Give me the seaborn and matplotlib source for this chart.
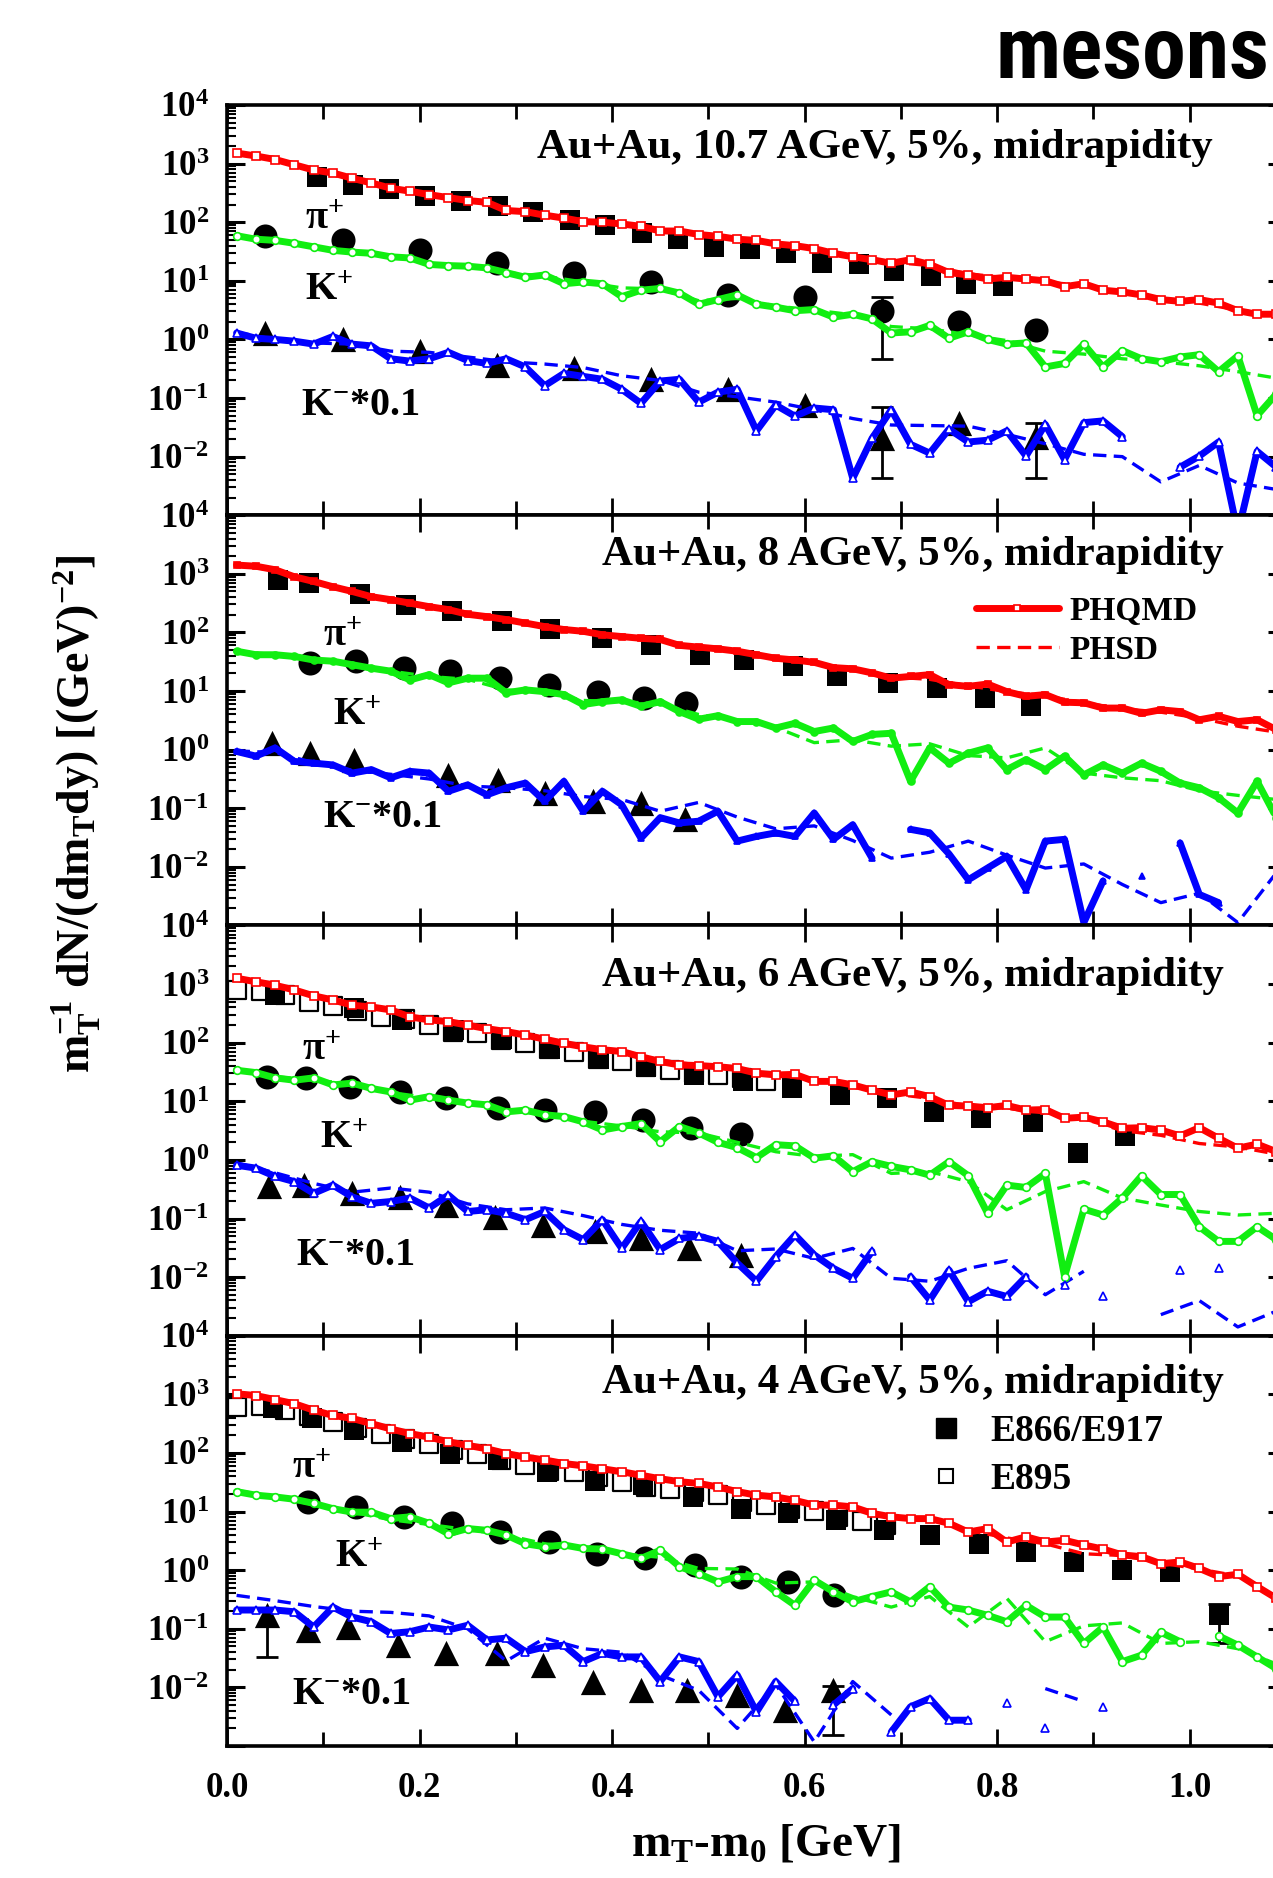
import numpy as np
import pandas as pd
import matplotlib
matplotlib.use("Agg")
import matplotlib.pyplot as plt
from matplotlib.lines import Line2D
from matplotlib.ticker import MultipleLocator, LogLocator, NullFormatter, FuncFormatter, FormatStrFormatter
import seaborn as sns

nan = np.nan

# ---------------- model grids (GeV) ----------------
mt_phqmd = [0.01, 0.03, 0.05, 0.07, 0.09, 0.11, 0.13, 0.15, 0.17, 0.19, 0.21, 0.23, 0.25, 0.27,
            0.29, 0.31, 0.33, 0.35, 0.37, 0.39, 0.41, 0.43, 0.45, 0.47, 0.49, 0.51, 0.53, 0.55,
            0.57, 0.59, 0.61, 0.63, 0.65, 0.67, 0.69, 0.71, 0.73, 0.75, 0.77, 0.79, 0.81, 0.83,
            0.85, 0.87, 0.89, 0.91, 0.93, 0.95, 0.97, 0.99, 1.01, 1.03, 1.05, 1.07, 1.09]
mt_phsd = [0.01, 0.05, 0.09, 0.13, 0.17, 0.21, 0.25, 0.29, 0.33, 0.37, 0.41, 0.45, 0.49, 0.53,
           0.57, 0.61, 0.65, 0.69, 0.73, 0.77, 0.81, 0.85, 0.89, 0.93, 0.97, 1.01, 1.05, 1.09]

# All spectra values below are log10 of m_T^-1 dN/(dm_T dy)

# ---------------- 10.7 AGeV ----------------
pi_phqmd_107 = [3.18, 3.13, 3.07, 2.98, 2.89, 2.84, 2.75, 2.67, 2.58, 2.53, 2.47, 2.42, 2.37, 2.34, 2.20,
                2.18, 2.12, 2.07, 2.01, 2.00, 1.97, 1.93, 1.85, 1.85, 1.79, 1.76, 1.71, 1.69, 1.63, 1.60,
                1.55, 1.47, 1.41, 1.36, 1.30, 1.36, 1.28, 1.14, 1.10, 1.03, 1.06, 1.03, 1.00, 0.90, 0.95,
                0.84, 0.81, 0.76, 0.68, 0.65, 0.68, 0.62, 0.49, 0.43, 0.43]
k_phqmd_107 = [1.77, 1.71, 1.69, 1.64, 1.58, 1.52, 1.49, 1.47, 1.41, 1.39, 1.28, 1.26, 1.25, 1.22, 1.14,
               1.06, 1.10, 0.95, 0.98, 0.95, 0.73, 0.84, 0.87, 0.79, 0.60, 0.68, 0.76, 0.60, 0.55, 0.49,
               0.51, 0.38, 0.43, 0.35, 0.11, 0.13, 0.24, 0.02, 0.13, 0.00, -0.08, -0.06, -0.47, -0.41, -0.08,
               -0.47, -0.19, -0.33, -0.38, -0.30, -0.26, -0.55, -0.28, -1.30, -0.93]
km_phqmd_107 = [0.11, 0.02, 0.00, -0.03, -0.08, 0.05, -0.08, -0.11, -0.33, -0.37, -0.33, -0.22, -0.36, -0.41, -0.33,
                -0.47, -0.79, -0.58, -0.63, -0.68, -0.85, -1.09, -0.71, -0.68, -1.07, -0.90, -0.85, -1.56, -1.12, -1.31,
                -1.17, -1.20, -2.37, -1.69, -1.20, -1.79, -1.94, -1.53, -1.75, -1.72, -1.56, -1.99, -1.45, -2.05, -1.42,
                -1.39, -1.66, nan, nan, -2.18, -1.99, -1.75, -3.30, -1.91, -2.18]
pi_phsd_107 = [3.18, 3.06, 2.90, 2.75, 2.60, 2.47, 2.37, 2.23, 2.12, 2.02, 1.96, 1.86, 1.79, 1.71,
               1.63, 1.54, 1.42, 1.32, 1.26, 1.12, 1.05, 0.98, 0.92, 0.80, 0.70, 0.62, 0.50, 0.42]
k_phsd_107 = [1.76, 1.69, 1.58, 1.50, 1.42, 1.30, 1.24, 1.14, 1.08, 0.98, 0.88, 0.86, 0.66, 0.70,
              0.57, 0.50, 0.42, 0.22, 0.18, 0.08, -0.02, -0.20, -0.25, -0.33, -0.38, -0.45, -0.55, -0.66]
km_phsd_107 = [0.12, 0.00, -0.06, -0.08, -0.20, -0.22, -0.30, -0.38, -0.42, -0.48, -0.62, -0.70, -0.90, -0.98,
               -1.07, -1.20, -1.35, -1.46, -1.47, -1.48, -1.62, -1.78, -1.96, -2.00, -2.43, -2.15, -2.45, -2.56]
sq_x_107 = [0.093, 0.131, 0.168, 0.206, 0.243, 0.281, 0.318, 0.356, 0.393, 0.431, 0.468, 0.506, 0.543, 0.581,
            0.618, 0.656, 0.693, 0.731, 0.768, 0.806]
sq_y_107 = [2.77, 2.64, 2.56, 2.45, 2.37, 2.28, 2.18, 2.04, 1.96, 1.82, 1.71, 1.58, 1.54, 1.47, 1.30, 1.28,
            1.17, 1.09, 0.95, 0.91]
osq_x_107 = []
osq_y_107 = []
circ_x_107 = [0.04, 0.12, 0.20, 0.28, 0.36, 0.44, 0.52, 0.60, 0.68, 0.76, 0.84]
circ_y_107 = [1.77, 1.69, 1.52, 1.30, 1.14, 0.98, 0.76, 0.73, 0.49, 0.30, 0.16]
tri_x_107 = [0.04, 0.12, 0.20, 0.28, 0.36, 0.44, 0.52, 0.60, 0.68, 0.76, 0.84]
tri_y_107 = [0.11, 0.00, -0.19, -0.44, -0.49, -0.68, -0.85, -1.12, -1.69, -1.42, -1.66]
err_x_107 = [0.68, 0.68, 0.84]
err_c_107 = [0.49, -1.69, -1.66]
err_lo_107 = [-0.33, -2.37, -2.37]
err_hi_107 = [0.73, -1.15, -1.42]

# ---------------- 8 AGeV ----------------
pi_phqmd_8 = [3.15, 3.13, 3.07, 2.95, 2.87, 2.78, 2.70, 2.61, 2.56, 2.50, 2.44, 2.39, 2.31, 2.27, 2.22,
              2.16, 2.10, 2.05, 2.02, 1.96, 1.93, 1.90, 1.88, 1.78, 1.75, 1.72, 1.68, 1.62, 1.56, 1.53,
              1.49, 1.40, 1.38, 1.31, 1.22, 1.25, 1.28, 1.11, 1.08, 1.12, 0.99, 0.91, 0.94, 0.81, 0.80,
              0.71, 0.71, 0.62, 0.68, 0.65, 0.51, 0.57, 0.48, 0.51, 0.34]
k_phqmd_8 = [1.68, 1.62, 1.62, 1.59, 1.53, 1.51, 1.45, 1.39, 1.34, 1.19, 1.28, 1.14, 1.22, 1.22, 0.97,
             1.02, 0.99, 0.94, 0.77, 0.82, 0.85, 0.74, 0.82, 0.65, 0.52, 0.58, 0.48, 0.48, 0.37, 0.45,
             0.31, 0.37, 0.14, 0.26, 0.28, -0.54, 0.03, -0.23, -0.06, 0.03, -0.34, -0.17, -0.34, -0.11, -0.43,
             -0.26, -0.40, -0.23, -0.37, -0.57, -0.65, -0.82, -1.08, -0.54, -1.16]
km_phqmd_8 = [-0.03, -0.11, 0.03, -0.20, -0.23, -0.26, -0.40, -0.34, -0.48, -0.37, -0.40, -0.71, -0.60, -0.77, -0.65,
              -0.57, -0.88, -0.54, -1.05, -0.71, -0.94, -1.51, -1.16, -1.25, -1.22, -1.05, -1.56, -1.48, -1.42, -1.48,
              -1.08, -1.53, -1.28, -1.85, nan, -1.36, -1.42, -1.78, -2.22, -2.02, -1.82, -2.39, -1.56, -1.53, -2.95,
              -2.24, nan, -2.16, nan, -1.59, -2.47, -2.61, nan, nan, nan]
pi_phsd_8 = [3.15, 3.06, 2.87, 2.70, 2.56, 2.44, 2.32, 2.22, 2.10, 2.01, 1.93, 1.86, 1.75, 1.67,
             1.56, 1.48, 1.37, 1.24, 1.20, 1.09, 0.99, 0.92, 0.80, 0.70, 0.64, 0.54, 0.40, 0.30]
k_phsd_8 = [1.68, 1.62, 1.54, 1.45, 1.34, 1.25, 1.20, 1.02, 0.98, 0.84, 0.82, 0.78, 0.60, 0.50,
            0.38, 0.12, 0.17, 0.06, 0.10, -0.10, -0.14, 0.03, -0.40, -0.48, -0.53, -0.70, -0.78, -0.85]
km_phsd_8 = [-0.02, -0.05, -0.22, -0.35, -0.42, -0.50, -0.62, -0.65, -0.70, -0.80, -0.85, -1.05, -0.90, -1.15,
             -1.35, -1.30, -1.55, -1.85, -1.75, -1.56, -1.80, -2.02, -1.95, -2.30, -2.61, -2.45, -2.95, -2.10]
sq_x_8 = [0.053, 0.085, 0.138, 0.186, 0.234, 0.286, 0.336, 0.390, 0.440, 0.491, 0.537, 0.588, 0.634, 0.687,
          0.738, 0.787, 0.835]
sq_y_8 = [2.90, 2.84, 2.65, 2.47, 2.36, 2.19, 2.06, 1.90, 1.79, 1.62, 1.53, 1.42, 1.25, 1.14, 1.05, 0.88, 0.74]
osq_x_8 = []
osq_y_8 = []
circ_x_8 = [0.086, 0.134, 0.184, 0.232, 0.284, 0.334, 0.385, 0.433, 0.477]
circ_y_8 = [1.48, 1.51, 1.40, 1.34, 1.22, 1.11, 0.99, 0.88, 0.80]
tri_x_8 = [0.047, 0.086, 0.132, 0.230, 0.282, 0.330, 0.380, 0.430, 0.476]
tri_y_8 = [0.11, -0.06, -0.17, -0.43, -0.51, -0.74, -0.88, -0.91, -1.19]
err_x_8 = []
err_c_8 = []
err_lo_8 = []
err_hi_8 = []

# ---------------- 6 AGeV ----------------
pi_phqmd_6 = [3.10, 3.04, 2.98, 2.90, 2.80, 2.73, 2.64, 2.61, 2.56, 2.44, 2.39, 2.36, 2.30, 2.24, 2.19,
              2.13, 2.06, 1.99, 1.93, 1.88, 1.85, 1.76, 1.68, 1.62, 1.61, 1.59, 1.56, 1.48, 1.45, 1.46,
              1.34, 1.34, 1.28, 1.19, 1.11, 1.16, 1.08, 0.93, 0.92, 0.89, 0.93, 0.85, 0.86, 0.71, 0.73,
              0.65, 0.54, 0.55, 0.51, 0.41, 0.55, 0.37, 0.20, 0.27, 0.14]
k_phqmd_6 = [1.53, 1.49, 1.40, 1.36, 1.40, 1.28, 1.31, 1.22, 1.16, 1.02, 1.08, 1.02, 0.97, 0.94, 0.82,
             0.85, 0.77, 0.74, 0.65, 0.51, 0.57, 0.62, 0.31, 0.57, 0.46, 0.30, 0.21, 0.04, 0.26, 0.24,
             0.03, 0.07, -0.20, -0.03, -0.11, -0.17, -0.26, -0.03, -0.27, -0.91, -0.43, -0.47, -0.23, -1.99, -0.84,
             -0.94, -0.65, -0.27, -0.59, -0.59, -1.14, -1.39, -1.39, -1.14, -1.36]
km_phqmd_6 = [-0.09, -0.14, -0.28, -0.37, -0.57, -0.43, -0.63, -0.74, -0.71, -0.65, -0.82, -0.60, -0.88, -0.85, -0.91,
              -1.02, -0.88, -1.19, -1.36, -1.02, -1.51, -1.05, -1.53, -1.34, -1.30, -1.39, -1.76, -2.07, -1.65, -1.28,
              -1.62, -1.85, -2.02, -1.56, nan, -1.99, -2.39, -1.88, -2.42, -2.24, -2.33, -1.99, nan, -2.13, nan,
              -2.33, nan, nan, nan, -1.88, nan, -1.84, nan, nan, nan]
pi_phsd_6 = [3.08, 2.97, 2.80, 2.65, 2.55, 2.40, 2.30, 2.18, 2.06, 1.94, 1.84, 1.70, 1.62, 1.55,
             1.45, 1.36, 1.26, 1.13, 1.05, 0.92, 0.88, 0.80, 0.70, 0.50, 0.42, 0.28, 0.22, 0.10]
k_phsd_6 = [1.52, 1.42, 1.36, 1.30, 1.15, 1.06, 0.97, 0.84, 0.78, 0.66, 0.58, 0.48, 0.46, 0.30,
            0.14, 0.06, 0.09, -0.23, -0.20, -0.37, -0.85, -0.54, -0.37, -0.65, -0.77, -0.88, -0.94, -0.91]
km_phsd_6 = [-0.05, -0.22, -0.40, -0.55, -0.48, -0.55, -0.75, -0.85, -0.82, -0.95, -1.10, -1.20, -1.25, -1.55,
             -1.52, -1.68, -1.51, -2.02, -2.07, -1.85, -1.72, -2.30, -1.90, nan, -2.64, -2.40, -2.85, -2.58]
sq_x_6 = [0.050, 0.132, 0.182, 0.236, 0.286, 0.336, 0.386, 0.435, 0.485, 0.536, 0.587, 0.637, 0.686, 0.734,
          0.783, 0.837, 0.884, 0.933]
sq_y_6 = [2.81, 2.60, 2.39, 2.22, 2.07, 1.90, 1.73, 1.59, 1.45, 1.34, 1.22, 1.11, 1.05, 0.82, 0.71, 0.65,
          0.11, 0.40]
osq_x_6 = [0.010, 0.035, 0.060, 0.085, 0.110, 0.135, 0.160, 0.185, 0.210, 0.235, 0.260, 0.285, 0.310, 0.335,
           0.360, 0.385, 0.410, 0.435, 0.460, 0.485, 0.510, 0.535, 0.560]
osq_y_6 = [2.90, 2.88, 2.81, 2.70, 2.63, 2.54, 2.44, 2.41, 2.31, 2.19, 2.16, 2.05, 1.99, 1.90, 1.85, 1.73,
           1.68, 1.59, 1.53, 1.48, 1.45, 1.40, 1.34]
circ_x_6 = [0.042, 0.082, 0.128, 0.180, 0.228, 0.282, 0.330, 0.382, 0.432, 0.482, 0.534]
circ_y_6 = [1.42, 1.40, 1.25, 1.16, 1.05, 0.88, 0.85, 0.82, 0.68, 0.54, 0.44]
tri_x_6 = [0.044, 0.080, 0.130, 0.180, 0.228, 0.278, 0.328, 0.382, 0.430, 0.480, 0.534]
tri_y_6 = [-0.45, -0.43, -0.57, -0.63, -0.77, -0.97, -1.11, -1.22, -1.34, -1.51, -1.62]
err_x_6 = []
err_c_6 = []
err_lo_6 = []
err_hi_6 = []

# ---------------- 4 AGeV ----------------
pi_phqmd_4 = [3.01, 2.98, 2.91, 2.84, 2.73, 2.64, 2.59, 2.50, 2.41, 2.33, 2.27, 2.19, 2.13, 2.07, 1.99,
              1.93, 1.88, 1.82, 1.78, 1.73, 1.68, 1.62, 1.56, 1.51, 1.48, 1.42, 1.34, 1.28, 1.25, 1.19,
              1.11, 1.11, 1.08, 0.97, 0.91, 0.88, 0.88, 0.80, 0.65, 0.71, 0.48, 0.57, 0.48, 0.51, 0.43,
              0.36, 0.26, 0.23, 0.11, 0.14, 0.03, -0.11, -0.07, -0.28, -0.48]
k_phqmd_4 = [1.34, 1.28, 1.25, 1.21, 1.14, 1.05, 0.99, 0.99, 0.88, 0.91, 0.80, 0.62, 0.71, 0.68, 0.60,
             0.45, 0.40, 0.43, 0.37, 0.36, 0.28, 0.20, 0.34, 0.06, -0.06, -0.20, -0.11, -0.11, -0.37, -0.60,
             -0.17, -0.37, -0.54, -0.45, -0.37, -0.54, -0.28, -0.63, -0.68, -0.77, -0.88, -0.60, -0.80, -0.80, -1.25,
             -0.97, -1.56, -1.45, -1.06, -1.22, nan, -1.12, -1.28, -1.48, -1.68]
km_phqmd_4 = [-0.68, -0.68, -0.68, -0.71, -0.97, -0.63, -0.80, -0.88, -1.08, -1.05, -0.97, -1.02, -0.94, -1.19, -1.16,
              -1.39, -1.31, -1.28, -1.56, -1.42, -1.48, -1.48, -1.90, -1.48, -1.56, -2.16, -1.79, -2.42, -1.90, -2.24,
              nan, -2.30, -2.02, nan, -2.76, -2.33, -2.19, -2.56, -2.56, nan, -2.27, nan, -2.70, nan, nan,
              -2.33, nan, nan, nan, nan, nan, nan, nan, nan, nan]
pi_phsd_4 = [3.00, 2.90, 2.73, 2.58, 2.42, 2.27, 2.13, 2.00, 1.88, 1.78, 1.68, 1.56, 1.47, 1.34,
             1.25, 1.12, 1.06, 0.92, 0.86, 0.68, 0.55, 0.45, 0.28, 0.25, 0.12, 0.02, -0.10, -0.45]
k_phsd_4 = [1.36, 1.25, 1.12, 0.99, 0.86, 0.78, 0.69, 0.60, 0.45, 0.38, 0.28, 0.22, 0.03, 0.02,
            -0.22, -0.20, -0.45, -0.63, -0.45, -0.97, -0.48, -1.22, -0.95, -0.90, -1.25, -1.22, -1.34, -1.60]
km_phsd_4 = [-0.43, -0.52, -0.62, -0.70, -0.72, -0.78, -1.00, -1.55, -1.16, -1.34, -1.40, -1.79, -2.05, -2.70,
             -1.95, -2.93, -1.90, -2.47, nan, -3.10, nan, -2.02, -2.24, nan, nan, nan, nan, nan]
sq_x_4 = [0.048, 0.088, 0.132, 0.182, 0.232, 0.282, 0.332, 0.382, 0.432, 0.484, 0.534, 0.583, 0.633, 0.682,
          0.730, 0.781, 0.830, 0.880, 0.930, 0.980, 1.030]
sq_y_4 = [2.76, 2.59, 2.39, 2.19, 1.99, 1.88, 1.68, 1.53, 1.45, 1.25, 1.05, 0.97, 0.85, 0.68, 0.60, 0.45,
          0.31, 0.14, 0.00, -0.03, -0.77]
osq_x_4 = [0.010, 0.035, 0.060, 0.085, 0.110, 0.135, 0.160, 0.185, 0.210, 0.235, 0.260, 0.285, 0.310, 0.335,
           0.360, 0.385, 0.410, 0.435, 0.460, 0.485, 0.510, 0.535, 0.560, 0.585, 0.610, 0.635, 0.660, 0.685]
osq_y_4 = [2.78, 2.80, 2.73, 2.63, 2.53, 2.43, 2.33, 2.24, 2.16, 2.05, 1.99, 1.88, 1.79, 1.70, 1.68, 1.59,
           1.51, 1.42, 1.39, 1.34, 1.28, 1.16, 1.11, 1.05, 1.01, 0.91, 0.84, 0.77]
circ_x_4 = [0.084, 0.134, 0.184, 0.234, 0.284, 0.334, 0.384, 0.434, 0.486, 0.534, 0.583, 0.631]
circ_y_4 = [1.16, 1.08, 0.91, 0.80, 0.65, 0.48, 0.28, 0.21, 0.09, -0.11, -0.20, -0.43]
tri_x_4 = [0.042, 0.084, 0.126, 0.178, 0.228, 0.280, 0.328, 0.380, 0.430, 0.478, 0.530, 0.580, 0.629]
tri_y_4 = [-0.77, -1.02, -0.97, -1.28, -1.42, -1.42, -1.62, -1.90, -2.05, -2.05, -2.13, -2.39, -2.05]
err_x_4 = [0.042, 0.629, 1.030]
err_c_4 = [-0.77, -2.05, -0.77]
err_lo_4 = [-1.48, -2.81, -1.25]
err_hi_4 = [-0.70, -1.98, -0.57]

titles = ["Au+Au, 10.7 AGeV, 5%, midrapidity", "Au+Au, 8 AGeV, 5%, midrapidity",
          "Au+Au, 6 AGeV, 5%, midrapidity", "Au+Au, 4 AGeV, 5%, midrapidity"]
species_labels = ["\u03c0$^{+}$", "K$^{+}$", "K$^{-}$*0.1"]

# ---------------- style ----------------
sns.set_style("ticks")
plt.rcParams.update({
    "font.family": ["Liberation Serif", "DejaVu Serif"],
    "font.weight": "bold",
    "mathtext.fontset": "custom",
    "mathtext.rm": "Liberation Serif:bold",
    "mathtext.it": "Liberation Serif:italic:bold",
    "mathtext.bf": "Liberation Serif:bold",
    "mathtext.default": "rm",
    "text.color": "black",
    "axes.edgecolor": "black",
    "axes.labelcolor": "black",
    "xtick.color": "black",
    "ytick.color": "black",
})

RED, GREEN, BLUE = "#ff0000", "#11ee11", "#0000ff"

panels = [
    dict(pi=pi_phqmd_107, k=k_phqmd_107, km=km_phqmd_107, pis=pi_phsd_107, ks=k_phsd_107, kms=km_phsd_107,
         sqx=sq_x_107, sqy=sq_y_107, osx=osq_x_107, osy=osq_y_107, cx=circ_x_107, cy=circ_y_107,
         tx=tri_x_107, ty=tri_y_107, ex=err_x_107, ec=err_c_107, elo=err_lo_107, ehi=err_hi_107),
    dict(pi=pi_phqmd_8, k=k_phqmd_8, km=km_phqmd_8, pis=pi_phsd_8, ks=k_phsd_8, kms=km_phsd_8,
         sqx=sq_x_8, sqy=sq_y_8, osx=osq_x_8, osy=osq_y_8, cx=circ_x_8, cy=circ_y_8,
         tx=tri_x_8, ty=tri_y_8, ex=err_x_8, ec=err_c_8, elo=err_lo_8, ehi=err_hi_8),
    dict(pi=pi_phqmd_6, k=k_phqmd_6, km=km_phqmd_6, pis=pi_phsd_6, ks=k_phsd_6, kms=km_phsd_6,
         sqx=sq_x_6, sqy=sq_y_6, osx=osq_x_6, osy=osq_y_6, cx=circ_x_6, cy=circ_y_6,
         tx=tri_x_6, ty=tri_y_6, ex=err_x_6, ec=err_c_6, elo=err_lo_6, ehi=err_hi_6),
    dict(pi=pi_phqmd_4, k=k_phqmd_4, km=km_phqmd_4, pis=pi_phsd_4, ks=k_phsd_4, kms=km_phsd_4,
         sqx=sq_x_4, sqy=sq_y_4, osx=osq_x_4, osy=osq_y_4, cx=circ_x_4, cy=circ_y_4,
         tx=tri_x_4, ty=tri_y_4, ex=err_x_4, ec=err_c_4, elo=err_lo_4, ehi=err_hi_4),
]

# layout (positions only)
title_pos = [(0.931, 0.896), (0.941, 0.904), (0.941, 0.877), (0.941, 0.886)]
label_pos = [
    [(0.081, 1.886), (0.081, 0.667), (0.077, -1.285)],
    [(0.100, 1.774), (0.110, 0.413), (0.100, -1.315)],
    [(0.078, 1.703), (0.097, 0.199), (0.072, -1.790)],
    [(0.068, 1.581), (0.112, 0.057), (0.068, -2.280)],
]


def draw_model(ax, xs, logy, color, lw, ls="-", marker=None, ms=5.0, mfc="white", z=4):
    x = np.asarray(xs, dtype=float)
    y = np.power(10.0, np.asarray(logy, dtype=float))
    seg = np.cumsum(np.isnan(y))
    df = pd.DataFrame({"x": x, "y": y, "seg": seg}).dropna()
    kw = dict(color=color, linewidth=lw, linestyle=ls, zorder=z)
    if marker is not None:
        kw.update(marker=marker, markersize=ms, markerfacecolor=mfc, markeredgecolor=color,
                  markeredgewidth=1.2)
    sns.lineplot(data=df, x="x", y="y", units="seg", estimator=None, sort=False, ax=ax,
                 legend=False, **kw)


def ylab(v, pos):
    e = int(round(np.log10(v)))
    if -2 <= e <= 4:
        return "$10^{%d}$" % e
    return ""


fig = plt.figure(figsize=(12.73, 18.78), dpi=100)
ax_left, ax_w = 0.1783, 0.8319
ph, pb = 0.21845, 0.07029
axes = []
for i, P in enumerate(panels):
    ax = fig.add_axes([ax_left, pb + (3 - i) * ph, ax_w, ph])
    axes.append(ax)
    ax.set_yscale("log")
    ax.set_xlim(0.0, 1.1)
    ax.set_ylim(1e-3, 1e4)

    # data
    if P["osx"]:
        sns.scatterplot(x=P["osx"], y=np.power(10.0, P["osy"]), marker="s", s=165, color="white",
                        edgecolor="black", linewidth=1.6, ax=ax, zorder=2, legend=False)
    sns.scatterplot(x=P["sqx"], y=np.power(10.0, P["sqy"]), marker="s", s=225, color="black",
                    linewidth=0, ax=ax, zorder=2, legend=False)
    sns.scatterplot(x=P["cx"], y=np.power(10.0, P["cy"]), marker="o", s=300, color="black",
                    linewidth=0, ax=ax, zorder=2, legend=False)
    sns.scatterplot(x=P["tx"], y=np.power(10.0, P["ty"]), marker="^", s=330, color="black",
                    linewidth=0, ax=ax, zorder=2, legend=False)
    if P["ex"]:
        c = np.power(10.0, P["ec"])
        lo = c - np.power(10.0, P["elo"])
        hi = np.power(10.0, P["ehi"]) - c
        ax.errorbar(P["ex"], c, yerr=[lo, hi], fmt="none", ecolor="black", elinewidth=2,
                    capsize=8, capthick=2, zorder=2)

    # PHSD (dashed)
    dash = (0, (4, 2.2))
    for arr, col in ((P["pis"], RED), (P["ks"], GREEN), (P["kms"], BLUE)):
        draw_model(ax, mt_phsd, arr, col, 2.4, ls=dash, z=3)
    # PHQMD (thick solid)
    if i == 1:
        for arr, col, mk in ((P["pi"], RED, "s"), (P["k"], GREEN, "o"), (P["km"], BLUE, "^")):
            draw_model(ax, mt_phqmd, arr, col, 5.0, marker=mk, ms=5, mfc=col, z=4)
    else:
        for arr, col, mk in ((P["pi"], RED, "s"), (P["k"], GREEN, "o"), (P["km"], BLUE, "^")):
            draw_model(ax, mt_phqmd, arr, col, 5.0, marker=mk, ms=5.5, mfc="white", z=4)

    # axes styling
    for sp in ax.spines.values():
        sp.set_linewidth(2.6)
        sp.set_color("black")
    ax.xaxis.set_major_locator(MultipleLocator(0.2))
    ax.xaxis.set_minor_locator(MultipleLocator(0.1))
    ax.xaxis.set_major_formatter(FormatStrFormatter("%.1f"))
    ax.yaxis.set_major_locator(LogLocator(base=10, numticks=20))
    ax.yaxis.set_minor_locator(LogLocator(base=10, subs=np.arange(2, 10), numticks=60))
    ax.yaxis.set_minor_formatter(NullFormatter())
    ax.yaxis.set_major_formatter(FuncFormatter(ylab))
    ax.tick_params(axis="both", which="both", direction="in", top=True, right=True)
    ax.tick_params(axis="y", which="major", length=13, width=2.2, pad=13, labelsize=25)
    ax.tick_params(axis="y", which="minor", length=6.5, width=1.5)
    ax.tick_params(axis="x", which="major", length=12, width=2.0, pad=19, labelsize=25)
    ax.tick_params(axis="x", which="minor", length=10, width=2.0)
    ax.set_xlabel("")
    ax.set_ylabel("")
    if i < 3:
        ax.tick_params(axis="x", labelbottom=False)

    tx, ty = title_pos[i]
    ax.text(tx, ty, titles[i], transform=ax.transAxes, ha="right", va="center", fontsize=31,
            fontweight="bold")
    for (lx, ly), s in zip(label_pos[i], species_labels):
        ax.text(lx, 10 ** ly, s, ha="left", va="baseline", fontsize=29, fontweight="bold", zorder=6)

# legends
h1 = Line2D([], [], color=RED, lw=5, marker="s", ms=5, mfc="white", mec=RED, mew=1.2)
h2 = Line2D([], [], color=RED, lw=2.4, ls=(0, (4, 2.2)))
axes[1].legend([h1, h2], ["PHQMD", "PHSD"], loc="upper left", bbox_to_anchor=(0.707, 0.804),
               frameon=False, fontsize=24, handlelength=2.5, handletextpad=0.3, labelspacing=0.25,
               borderpad=0, borderaxespad=0)
h3 = Line2D([], [], ls="none", marker="s", ms=15, color="black")
h4 = Line2D([], [], ls="none", marker="s", ms=10, mfc="white", mec="black", mew=1.5)
axes[3].legend([h3, h4], ["E866/E917", "E895"], loc="upper left", bbox_to_anchor=(0.661, 0.81),
               frameon=False, fontsize=27, handlelength=1.0, handletextpad=0.7, labelspacing=0.35,
               borderpad=0, borderaxespad=0)

fig.text(0.0600, 0.5666, r"m$_\mathrm{T}^{-1}$ dN/(dm$_\mathrm{T}$dy) [(GeV)$^{-2}$]", rotation=90,
         ha="center", va="center", fontsize=33, fontweight="bold")
fig.text(0.6017, 0.0181, r"m$_\mathrm{T}$-m$_\mathrm{0}$ [GeV]", ha="center", va="center",
         fontsize=34, fontweight="bold")

# "mesons" header: condensed sans if available, fitted to the space at the right edge
mes = fig.text(0.7824, 0.9585, "mesons", ha="left", va="baseline", fontsize=73, fontweight="bold",
               fontstretch="condensed",
               family=["Liberation Sans Narrow", "Roboto Condensed", "DejaVu Sans", "Liberation Sans"])
fig.canvas.draw()
target_w = 1270 - 0.7824 * 1273
w = mes.get_window_extent().width
if w > target_w:
    mes.set_fontsize(73 * target_w / w)

fig.savefig("out.png", dpi=100)
